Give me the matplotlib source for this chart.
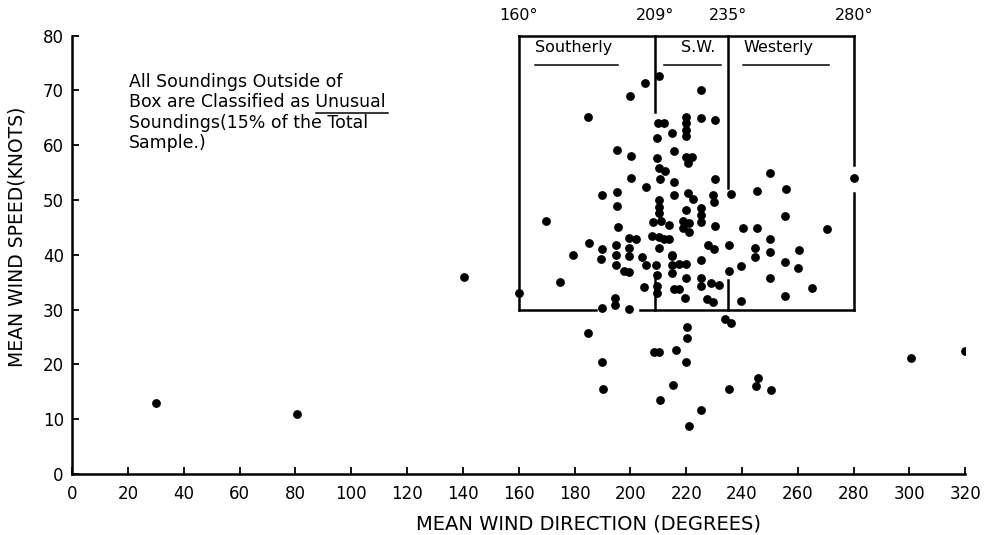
import matplotlib
matplotlib.use('Agg')
import matplotlib.pyplot as plt

# mean wind direction (degrees) and mean wind speed (knots)
direction = [210.3, 205.3, 199.9, 225.4, 184.9,
             210.0, 212.0,
             220.0, 220.0, 220.0, 220.0,
             225.4, 230.3, 215.1, 209.7,
             195.3, 200.1, 209.7, 215.7,
             220.0, 222.0, 220.5,
             210.3, 212.3, 210.5, 200.1, 215.7, 230.3,
             205.5, 215.7, 220.5, 222.3, 229.5, 230.1, 236.1,
             190.0, 195.3, 195.1,
             210.3, 210.3, 210.3, 208.0, 211.0, 214.0,
             219.9, 225.3, 225.3, 225.3,
             219.0, 221.0, 219.0, 221.0,
             230.3, 240.3, 245.3,
             207.9, 210.3, 212.1, 213.9,
             199.5, 201.9,
             210.3, 227.7, 229.8, 235.5,
             204.3, 215.1, 225.3,
             169.9, 195.7, 185.1,
             194.7, 194.7, 199.5, 199.5, 189.9, 179.3, 189.6,
             194.7, 197.7, 199.5, 205.5, 209.1,
             215.1, 215.1, 215.1, 217.5, 219.9,
             209.7, 209.4, 209.7, 215.5, 217.3, 219.9, 219.6,
             225.3, 225.3, 228.9, 231.8, 227.3, 229.7,
             235.5, 239.7, 239.7,
             245.3, 249.9, 255.6, 255.3, 249.9, 244.5, 244.6, 249.9, 249.9,
             255.3, 260.1, 260.4, 255.3, 265.2, 270.5, 280.2,
             160.2, 174.9,
             190.0, 194.6, 194.6, 199.5, 204.9,
             234.0, 236.0,
             184.9, 220.3, 220.3, 208.5, 210.3, 216.3, 219.9, 189.9, 190.3,
             215.4, 235.5, 245.7, 245.1, 250.5, 210.7, 225.3, 220.9,
             30.0, 80.5, 140.4, 300.5, 320.0]
speed = [72.6, 71.3, 69.0, 70.0, 65.2,
         64.0, 64.0,
         65.2, 64.0, 62.8, 61.6,
         64.9, 64.6, 62.3, 61.3,
         59.2, 58.0, 57.7, 58.9,
         57.9, 57.9, 56.8,
         55.8, 55.2, 53.8, 54.0, 53.2, 53.9,
         52.3, 50.9, 51.2, 50.1, 50.9, 49.7, 51.1,
         50.9, 51.5, 48.9,
         50.0, 48.8, 47.6, 46.0, 46.2, 45.4,
         48.2, 48.5, 47.3, 46.0,
         46.2, 45.8, 44.8, 44.2,
         45.3, 44.9, 44.8,
         43.4, 43.3, 42.8, 42.8,
         43.0, 42.8,
         41.2, 41.7, 41.0, 41.8,
         39.6, 40.0, 39.0,
         46.2, 45.0, 42.2,
         41.8, 40.0, 41.2, 39.7, 41.0, 39.9, 39.2,
         38.1, 37.0, 36.9, 38.1, 38.1,
         39.7, 38.1, 36.6, 38.3, 38.3,
         36.3, 34.3, 33.0, 33.7, 33.7, 35.8, 32.1,
         35.7, 34.3, 34.8, 34.5, 31.9, 31.4,
         37.0, 38.0, 31.6,
         51.6, 54.9, 52.0, 47.0, 42.9, 41.2, 39.6, 40.6, 35.7,
         38.6, 37.5, 40.9, 32.5, 33.9, 44.7, 54.0,
         33.0, 35.1,
         30.3, 32.2, 30.8, 30.2, 34.1,
         28.2, 27.6,
         25.8, 26.9, 24.9, 22.3, 22.2, 22.7, 20.5, 20.5, 15.6,
         16.2, 15.6, 17.6, 16.1, 15.3, 13.5, 11.6, 8.8,
         13.0, 10.9, 36.0, 21.2, 22.4]

# classification box (direction limits) and speed limits
box_dirs = [160, 209, 235, 280]
box_dir_labels = ['160°', '209°', '235°', '280°']
box_low, box_high = 30, 80
x_ticks = list(range(0, 321, 20))
y_ticks = list(range(0, 81, 10))

plt.rcParams['font.family'] = 'DejaVu Sans'
fig = plt.figure(figsize=(9.88, 5.35), dpi=100)
ax = fig.add_axes([0.073, 0.114, 0.904, 0.8195])

ax.scatter(direction, speed, s=40, c='black', zorder=3, linewidths=0)

# the box, with its dividers (gaps where the original drawing is broken)
lw = 1.8
ax.plot([160, 280], [box_high, box_high], color='black', lw=lw, clip_on=False)
ax.plot([160, 160], [box_low, box_high], color='black', lw=lw, clip_on=False)
ax.plot([160, 187.6], [box_low, box_low], color='black', lw=lw)
ax.plot([203.5, 280], [box_low, box_low], color='black', lw=lw)
ax.plot([209, 209], [66.0, box_high], color='black', lw=lw, clip_on=False)
ax.plot([209, 209], [box_low, 36.7], color='black', lw=lw)
ax.plot([235, 235], [52.2, box_high], color='black', lw=lw, clip_on=False)
ax.plot([235, 235], [box_low, 35.4], color='black', lw=lw)
ax.plot([280, 280], [56.4, box_high], color='black', lw=lw, clip_on=False)
ax.plot([280, 280], [box_low, 51.2], color='black', lw=lw)

for d, lab in zip(box_dirs, box_dir_labels):
    ax.text(d, 83.6, lab, ha='center', va='center', fontsize=11.5, clip_on=False)

# sector names with underlines
ax.text(166, 77.9, 'Southerly', ha='left', va='center', fontsize=11.5)
ax.plot([166, 195.5], [74.6, 74.6], color='black', lw=1.1)
ax.text(230.5, 77.9, 'S.W.', ha='right', va='center', fontsize=11.5)
ax.plot([212, 232.5], [74.6, 74.6], color='black', lw=1.1)
ax.text(240.5, 77.9, 'Westerly', ha='left', va='center', fontsize=11.5)
ax.plot([240.5, 271], [74.6, 74.6], color='black', lw=1.1)

# note about unusual soundings
note = ['All Soundings Outside of',
        'Box are Classified as Unusual',
        'Soundings(15% of the Total',
        'Sample.)']
note_texts = []
for i, line in enumerate(note):
    t = ax.text(20.5, 71.5 - i * 3.7, line, ha='left', va='center', fontsize=12.5)
    note_texts.append(t)

ax.set_xlim(0, 320)
ax.set_ylim(0, 80)
ax.set_xticks(x_ticks)
ax.set_yticks(y_ticks)
ax.tick_params(direction='in', length=5, width=1.3, labelsize=12, pad=8)
ax.tick_params(axis='y', pad=6)
for side in ['top', 'right']:
    ax.spines[side].set_visible(False)
for side in ['left', 'bottom']:
    ax.spines[side].set_linewidth(1.8)

ax.set_xlabel('MEAN WIND DIRECTION (DEGREES)', fontsize=14)
ax.set_ylabel('MEAN WIND SPEED(KNOTS)', fontsize=13.5)
ax.xaxis.set_label_coords(0.578, -0.092)
ax.yaxis.set_label_coords(-0.0515, 0.54)

# underline the word "Unusual" at the end of the second note line
fig.canvas.draw()
renderer = fig.canvas.get_renderer()
line_box = note_texts[1].get_window_extent(renderer)
tmp = ax.text(0, 0, 'Unusual', fontsize=12.5)
word_w = tmp.get_window_extent(renderer).width
tmp.remove()
inv = ax.transData.inverted()
x0, y0 = inv.transform((line_box.x1 - word_w, line_box.y0 - 2))
x1, _ = inv.transform((line_box.x1 + 2, line_box.y0 - 2))
ax.plot([x0, x1], [y0, y0], color='black', lw=1.1)

fig.savefig('out.png', dpi=100)
